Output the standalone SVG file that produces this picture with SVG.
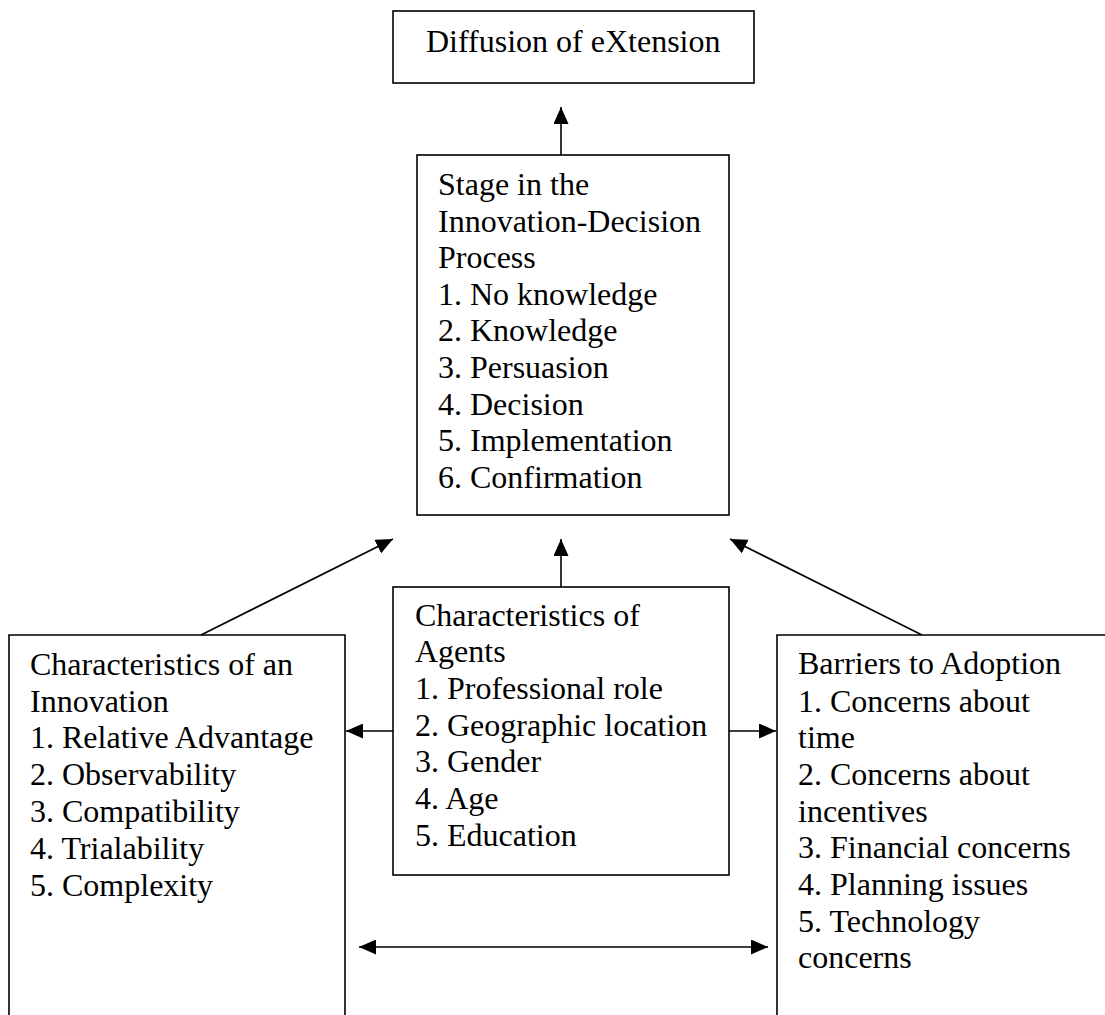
<svg xmlns="http://www.w3.org/2000/svg" width="1105" height="1015" viewBox="0 0 1105 1015">
  <style>
    .box { fill: #ffffff; stroke: #000000; stroke-width: 1.6; }
    .open { fill: none; stroke: #000000; stroke-width: 1.6; }
    .lbl { font-family: "Liberation Serif", "Times New Roman", serif; font-size: 32px; fill: #000000; }
    .conn { fill: none; stroke: #000000; stroke-width: 1.6; marker-end: url(#arrow); }
    .dbl { marker-start: url(#arrow); }
  </style>
  <defs>
    <marker id="arrow" viewBox="0 0 17 15" refX="17" refY="7.5" markerWidth="17" markerHeight="15" markerUnits="userSpaceOnUse" orient="auto-start-reverse">
      <path d="M0,0 L17,7.5 L0,15 Z" fill="#000000"/>
    </marker>
  </defs>
  <rect width="1105" height="1015" fill="#ffffff"/>

  <g id="connectors">
    <line class="conn" x1="561" y1="155" x2="561" y2="107"/>
    <line class="conn" x1="201" y1="635" x2="393" y2="539"/>
    <line class="conn" x1="561" y1="587" x2="561" y2="539"/>
    <line class="conn" x1="922" y1="635" x2="730" y2="539"/>
    <line class="conn" x1="393" y1="731" x2="346" y2="731"/>
    <line class="conn" x1="729" y1="731" x2="776" y2="731"/>
    <line class="conn dbl" x1="359" y1="947" x2="768" y2="947"/>
  </g>

  <g id="diffusion">
    <rect class="box" x="393" y="11" width="361" height="72"/>
    <text class="lbl" x="426" y="52">Diffusion of eXtension</text>
  </g>

  <g id="stage">
    <rect class="box" x="417" y="155" width="312" height="360"/>
    <text class="lbl">
      <tspan x="438" y="195">Stage in the</tspan>
      <tspan x="438" y="232">Innovation-Decision</tspan>
      <tspan x="438" y="268">Process</tspan>
      <tspan x="438" y="305">1. No knowledge</tspan>
      <tspan x="438" y="341">2. Knowledge</tspan>
      <tspan x="438" y="378">3. Persuasion</tspan>
      <tspan x="438" y="415">4. Decision</tspan>
      <tspan x="438" y="451">5. Implementation</tspan>
      <tspan x="438" y="488">6. Confirmation</tspan>
    </text>
  </g>

  <g id="agents">
    <rect class="box" x="393" y="587" width="336" height="288"/>
    <text class="lbl">
      <tspan x="415" y="626">Characteristics of</tspan>
      <tspan x="415" y="662">Agents</tspan>
      <tspan x="415" y="699">1. Professional role</tspan>
      <tspan x="415" y="736">2. Geographic location</tspan>
      <tspan x="415" y="772">3. Gender</tspan>
      <tspan x="415" y="809">4. Age</tspan>
      <tspan x="415" y="846">5. Education</tspan>
    </text>
  </g>

  <g id="innovation">
    <path class="open" d="M9,1020 V635 H345 V1020"/>
    <text class="lbl">
      <tspan x="30" y="675">Characteristics of an</tspan>
      <tspan x="30" y="712">Innovation</tspan>
      <tspan x="30" y="748">1. Relative Advantage</tspan>
      <tspan x="30" y="785">2. Observability</tspan>
      <tspan x="30" y="822">3. Compatibility</tspan>
      <tspan x="30" y="859">4. Trialability</tspan>
      <tspan x="30" y="896">5. Complexity</tspan>
    </text>
  </g>

  <g id="barriers">
    <path class="open" d="M777,1020 V635 H1110"/>
    <text class="lbl">
      <tspan x="798" y="674">Barriers to Adoption</tspan>
      <tspan x="798" y="712">1. Concerns about</tspan>
      <tspan x="798" y="748">time</tspan>
      <tspan x="798" y="785">2. Concerns about</tspan>
      <tspan x="798" y="822">incentives</tspan>
      <tspan x="798" y="858">3. Financial concerns</tspan>
      <tspan x="798" y="895">4. Planning issues</tspan>
      <tspan x="798" y="932">5. Technology</tspan>
      <tspan x="798" y="968">concerns</tspan>
    </text>
  </g>
</svg>
